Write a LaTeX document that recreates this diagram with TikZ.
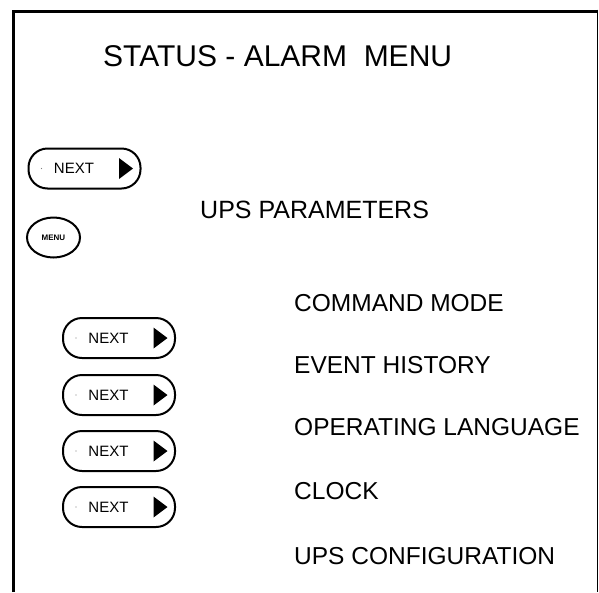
\documentclass[tikz,border=0pt]{standalone}
\usepackage{fontspec}
\setmainfont{Liberation Sans}
\usetikzlibrary{shapes.geometric,calc}
\tikzset{
  frameline/.style={line width=3.8pt},
  btn/.style={draw,line width=2pt,rectangle,rounded corners=19pt,minimum width=112pt,minimum height=40pt,inner sep=0pt},
  btntxt/.style={inner sep=0pt,font=\fontsize{15}{18}\selectfont},
  tri/.style={fill=black},
  menuitem/.style={anchor=base west,inner sep=0pt,font=\fontsize{24.5}{28}\selectfont},
}
\newcommand\nextbtn[3]{% name, x, y
  \node[btn] (#1) at (#2,#3) {};
  \node[btntxt] (#1t) at ($(#1.center)+(-10.5,0)$) {NEXT};
  \fill[tri] ($(#1.center)+(34.5,10.5)$) -- ($(#1.center)+(48.5,0)$) -- ($(#1.center)+(34.5,-10.5)$) -- cycle;
  \fill[gray] ($(#1.center)+(-43,0)$) circle (0.7pt);
}
\begin{document}
\begin{tikzpicture}[x=1pt,y=1pt]
\useasboundingbox (0,0) rectangle (599,-592);
\fill[white] (0,0) rectangle (599,-592);
% frame
\draw[frameline] (13.4,-592) -- (13.4,-11.5) -- (597,-11.5);
\draw[line width=1.8pt] (597.5,-9.6) -- (597.5,-592);
% title
\node[anchor=base west,inner sep=0pt,font=\fontsize{30}{34}\selectfont] (title) at (103,-66) {STATUS - ALARM\ \ MENU};
% top buttons
\nextbtn{nb0}{84.5}{-168.5}
\node[draw,line width=2pt,ellipse,minimum width=53pt,minimum height=40pt,inner sep=0pt,font=\fontsize{8}{9}\selectfont\bfseries] (menu) at (53.5,-237.5) {MENU};
\node[anchor=base west,inner sep=0pt,font=\fontsize{25}{28}\selectfont] (ups) at (200,-218) {UPS PARAMETERS};
% menu items
\node[menuitem] (cmd) at (294,-311) {COMMAND MODE};
\node[menuitem] (evt) at (294,-373) {EVENT HISTORY};
\node[menuitem] (lang) at (294,-435) {OPERATING LANGUAGE};
\node[menuitem] (clk) at (294,-499) {CLOCK};
\node[menuitem] (conf) at (294,-564) {UPS CONFIGURATION};
% lower buttons
\nextbtn{nb1}{119}{-338}
\nextbtn{nb2}{119}{-395}
\nextbtn{nb3}{119}{-451}
\nextbtn{nb4}{119}{-507}
\end{tikzpicture}
\end{document}
